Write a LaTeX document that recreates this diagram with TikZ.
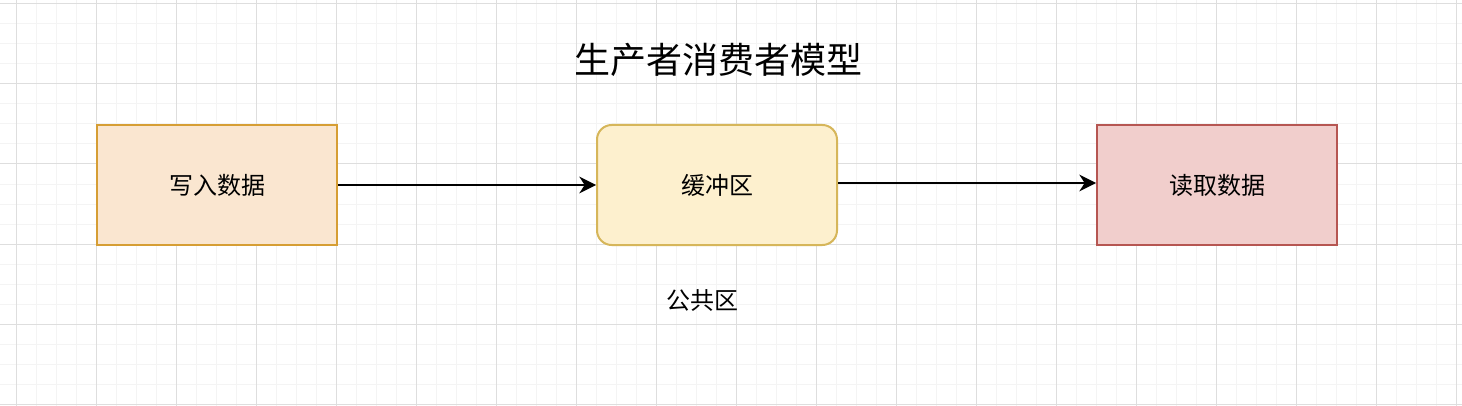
\documentclass[tikz,border=0pt]{standalone}
\usepackage{fontspec}
\setmainfont{Noto Sans CJK SC}
\usepackage{tikz}
\usetikzlibrary{arrows.meta}

\definecolor{gridminor}{RGB}{244,244,244}
\definecolor{gridmajor}{RGB}{222,222,222}
\definecolor{wrfill}{RGB}{250,230,208}
\definecolor{wrdraw}{RGB}{214,158,52}
\definecolor{buffill}{RGB}{253,240,206}
\definecolor{bufdraw}{RGB}{214,182,90}
\definecolor{rdfill}{RGB}{241,206,204}
\definecolor{rddraw}{RGB}{182,86,82}

\tikzset{
	box/.style={shape=rectangle, line width=1.5pt, minimum width=180pt, minimum height=90pt, font=\fontsize{18}{22}\selectfont},
	flow/.style={-{Stealth[length=12.5pt, width=12.5pt, inset=4pt]}, line width=1.5pt}
}

\begin{document}
\begin{tikzpicture}[x=0.75pt, y=-0.75pt]
	
	\fill[white] (0,0) rectangle (1462,406);
	\useasboundingbox (0,0) rectangle (1462,406);
	
	% grid
	\foreach \gx in {16,36,...,1456} \draw[gridminor, line width=0.75pt] (\gx,0) -- (\gx,406);
	\foreach \gy in {4,24,...,404} \draw[gridminor, line width=0.75pt] (0,\gy) -- (1462,\gy);
	\foreach \gx in {16,96,...,1456} \draw[gridmajor, line width=0.75pt] (\gx,0) -- (\gx,406);
	\foreach \gy in {4,84,...,404} \draw[gridmajor, line width=0.75pt] (0,\gy) -- (1462,\gy);
	
	\node[font=\fontsize{27}{32}\selectfont] (title) at (718, 60) {生产者消费者模型};
	
	\node[box, fill=wrfill, draw=wrdraw] (wr) at (217, 185) {写入数据};
	\node[box, fill=buffill, draw=bufdraw, rounded corners=11pt] (buf) at (717, 185) {缓冲区};
	\node[box, fill=rdfill, draw=rddraw] (rd) at (1217, 185) {读取数据};
	
	\node[font=\fontsize{18}{22}\selectfont] (pub) at (702, 300) {公共区};
	
	\path[flow] (wr) edge (buf);
	\path[flow] ([yshift=1.5pt]buf.east) edge ([yshift=1.5pt]rd.west);
	
\end{tikzpicture}
\end{document}
